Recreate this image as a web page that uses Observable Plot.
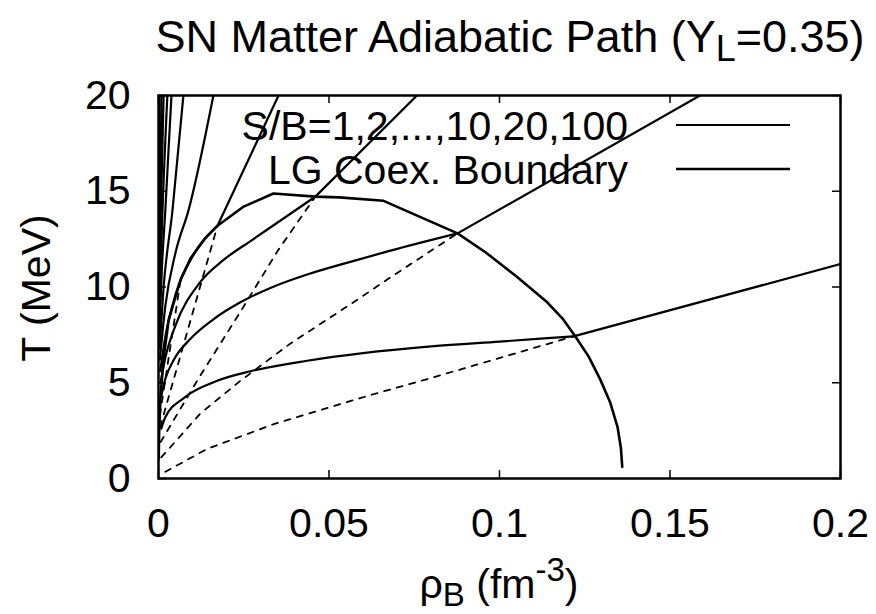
<!DOCTYPE html>
<html><head><meta charset="utf-8">
<script src="https://cdn.jsdelivr.net/npm/d3@7"></script>
<script src="https://cdn.jsdelivr.net/npm/@observablehq/plot@0.6"></script>
<style>
body{margin:0;background:#fff;}
#chart{position:relative;width:876px;height:614px;}
</style></head><body><div id="chart"></div>
<script>
// ---- axis ticks ----
const xTicks = [0, 0.05, 0.1, 0.15, 0.2];
const yTicks = [0, 5, 10, 15, 20];

// ---- legend / labels ----
const legendLabels = ["S/B=1,2,...,10,20,100", "LG Coex. Boundary"];

// ---- adiabats (uniform matter), [rho_B (fm^-3), T (MeV)] ----
// inner (curved) branches
const sb1 = [[0.0008,2.6],[0.002,3.2],[0.0074,4.2],[0.0172,5.1],[0.027,5.6],[0.0436,6.15],[0.06,6.55],[0.08,6.9],[0.1,7.15],[0.1217,7.42]];
const sb2 = [[0.0008,4.3],[0.002,5.2],[0.0045,6.2],[0.0094,7.3],[0.016,8.3],[0.024,9.2],[0.0335,10.0],[0.0436,10.65],[0.056,11.3],[0.068,11.9],[0.0877,12.8]];
const sb3 = [[0.0006,5.0],[0.002,6.3],[0.005,8.0],[0.012,10.2],[0.019,11.4],[0.027,12.4],[0.036,13.5],[0.046,14.72]];
const sb4 = [[0.0005,5.6],[0.002,7.4],[0.005,9.6],[0.01,11.6],[0.0173,13.2]];
// outer (straight) branches beyond the coexistence boundary
const sb1out = [[0.1217,7.42],[0.2,11.2]];
const sb2out = [[0.0877,12.8],[0.1588,20]];
const sb3out = [[0.046,14.72],[0.0758,20]];
const sb4out = [[0.0173,13.2],[0.0352,20]];
const sb5 = [[0.0004,6.2],[0.002,9.0],[0.005,11.8],[0.0088,14.0],[0.0161,20]];
const sb6 = [[0.0003,6.8],[0.0015,10.0],[0.0041,14.0],[0.0073,20]];
const sb7 = [[0.0002,7.5],[0.001,11.0],[0.002,14.0],[0.0038,20]];
const sb8 = [[0.0002,8.2],[0.0008,12.0],[0.0026,20]];
const sb9 = [[0.0001,8.8],[0.0005,12.5],[0.0015,20]];
const sb10 = [[0.0001,9.4],[0.0003,13.0],[0.0009,20]];
const sb20 = [[0.00003,11.0],[0.0003,20]];
const sb100 = [[0.00001,15.0],[0.00005,20]];

// ---- adiabats inside the coexistence region (dashed) ----
const mix1 = [[0.002,0.35],[0.0143,1.55],[0.034,2.85],[0.063,4.4],[0.079,5.2],[0.1217,7.42]];
const mix2 = [[0.0008,1.1],[0.0123,3.4],[0.024,5.1],[0.0387,7.05],[0.058,9.3],[0.068,10.5],[0.0877,12.8]];
const mix3 = [[0.0006,1.9],[0.012,5.3],[0.024,8.7],[0.035,11.9],[0.046,14.72]];
const mix4 = [[0.0005,2.7],[0.0173,13.2]];
const mix5 = [[0.0004,3.3],[0.0065,10.4]];

// ---- liquid-gas coexistence boundary ----
const boundary = [[0.00005,1.0],[0.0002,2.5],[0.0006,4.3],[0.0015,6.3],[0.003,8.3],[0.0065,10.4],[0.0094,11.5],[0.0135,12.5],[0.0173,13.2],[0.025,14.2],[0.0337,14.88],[0.046,14.72],[0.053,14.68],[0.066,14.5],[0.0877,12.8],[0.096,11.8],[0.105,10.55],[0.114,9.2],[0.1185,8.35],[0.1223,7.4],[0.1262,6.35],[0.1296,5.15],[0.1325,3.95],[0.1346,2.7],[0.1356,1.6],[0.136,0.6]];

const solidSeries = {"1":sb1,"1o":sb1out,"2":sb2,"2o":sb2out,"3":sb3,"3o":sb3out,"4":sb4,"4o":sb4out,"5":sb5,"6":sb6,"7":sb7,"8":sb8,"9":sb9,"10":sb10,"20":sb20,"100":sb100};
const dashSeries = {"1":mix1,"2":mix2,"3":mix3,"4":mix4,"5":mix5};
const toRows = (obj) => Object.entries(obj).flatMap(([k, pts]) => pts.map(([rho, T]) => ({series: k, rho, T})));
const solidRows = toRows(solidSeries);
const dashRows = toRows(dashSeries);
const boundaryRows = boundary.map(([rho, T]) => ({rho, T}));

const W = 876, H = 614, mL = 158, mR = 36, mT = 95, mB = 136;
const innerW = W - mL - mR, innerH = H - mT - mB;
const FONT = "'Liberation Sans', Arial, Helvetica, sans-serif";
const FS = 41;

const svgEl = Plot.plot({
  width: W, height: H,
  marginLeft: mL, marginRight: mR, marginTop: mT, marginBottom: mB,
  x: {domain: [0, 0.2]},
  y: {domain: [0, 20]},
  style: {fontFamily: FONT, fontSize: FS + "px", color: "#000", background: "#fff", overflow: "visible"},
  marks: [
    Plot.line(dashRows, {x: "rho", y: "T", z: "series", stroke: "#000", strokeWidth: 1.8, strokeDasharray: "6,7", clip: true}),
    Plot.line(solidRows, {x: "rho", y: "T", z: "series", stroke: "#000", strokeWidth: 2.2, curve: "monotone-x", clip: true}),
    Plot.line(boundaryRows, {x: "rho", y: "T", stroke: "#000", strokeWidth: 2.6, strokeLinejoin: "round", clip: true}),
    Plot.tickX(xTicks, {x: d => d, insetTop: innerH - 8, stroke: "#000", strokeWidth: 1.5}),
    Plot.tickX(xTicks, {x: d => d, insetBottom: innerH - 8, stroke: "#000", strokeWidth: 1.5}),
    Plot.tickY(yTicks, {y: d => d, insetRight: innerW - 8, stroke: "#000", strokeWidth: 1.5}),
    Plot.tickY(yTicks, {y: d => d, insetLeft: innerW - 8, stroke: "#000", strokeWidth: 1.5}),
    Plot.axisX(xTicks, {tickSize: 0, tickPadding: 29, tickFormat: d => String(d), label: null, fontSize: FS}),
    Plot.axisY(yTicks, {tickSize: 0, tickPadding: 28, tickFormat: d => String(d), label: null, fontSize: FS}),
    Plot.frame({stroke: "#000", strokeWidth: 2.5})
  ]
});
document.getElementById("chart").appendChild(svgEl);

const svg = d3.select(svgEl);
const cx = mL + innerW / 2;

// title with subscript
const title = svg.append("text").attr("x", 510).attr("y", 52).attr("text-anchor", "middle")
  .attr("font-family", FONT).attr("font-size", 45).attr("fill", "#000");
title.append("tspan").text("SN Matter Adiabatic Path (Y");
title.append("tspan").attr("dy", 9).attr("font-size", 36).text("L");
title.append("tspan").attr("dy", -9).text("=0.35)");

// x label rho_B (fm^-3)
const xl = svg.append("text").attr("x", cx).attr("y", 598).attr("text-anchor", "middle")
  .attr("font-family", FONT).attr("font-size", FS).attr("fill", "#000");
xl.append("tspan").text("ρ");
xl.append("tspan").attr("dy", 8).attr("font-size", 33).text("B");
xl.append("tspan").attr("dy", -8).text(" (fm");
xl.append("tspan").attr("dy", -17).attr("font-size", 33).text("-3");
xl.append("tspan").attr("dy", 17).text(")");

// y label
svg.append("text").attr("transform", "translate(50,288) rotate(-90)").attr("text-anchor", "middle")
  .attr("font-family", FONT).attr("font-size", FS).attr("fill", "#000").text("T (MeV)");

// key (gnuplot style: right-justified text + sample line)
const keyBase = [140, 184];
legendLabels.forEach((lab, i) => {
  svg.append("text").attr("x", 628).attr("y", keyBase[i]).attr("text-anchor", "end")
    .attr("font-family", FONT).attr("font-size", FS).attr("fill", "#000").text(lab);
  svg.append("line").attr("x1", 676).attr("x2", 790).attr("y1", keyBase[i] - 15).attr("y2", keyBase[i] - 15)
    .attr("stroke", "#000").attr("stroke-width", i === 0 ? 2.2 : 2.6);
});
</script></body></html>
